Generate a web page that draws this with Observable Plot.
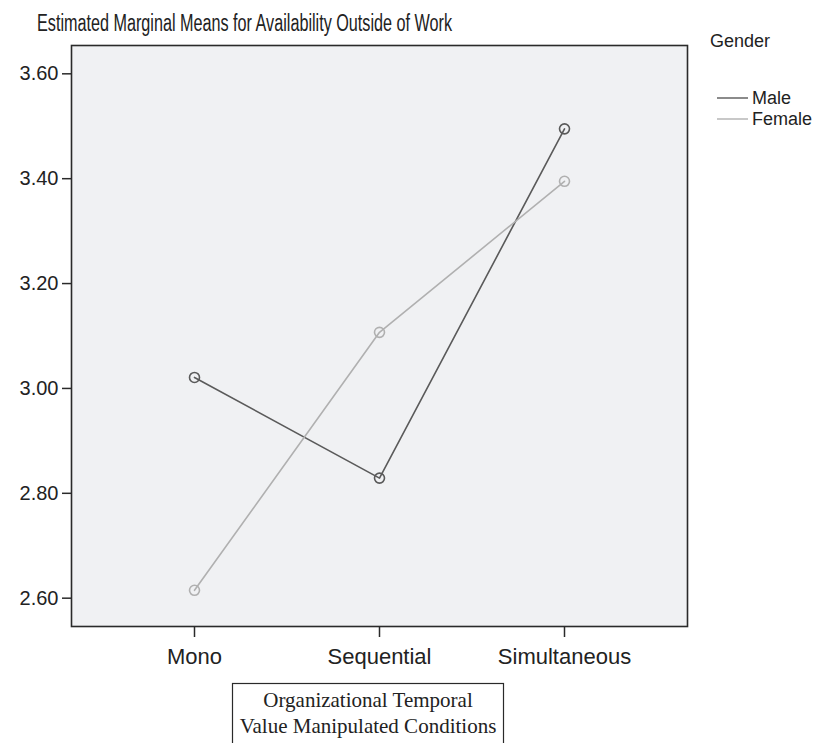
<!DOCTYPE html>
<html><head><meta charset="utf-8">
<script src="https://cdn.jsdelivr.net/npm/d3@7"></script>
<script src="https://cdn.jsdelivr.net/npm/@observablehq/plot@0.6"></script>
<style>
body{margin:0;background:#fff;}
#chart{width:813px;height:743px;}
</style>
</head><body><div id="chart"></div>
<script>
const conditions = ["Mono", "Sequential", "Simultaneous"];
const maleMeans = [3.021, 2.829, 3.495];
const femaleMeans = [2.615, 3.107, 3.395];
const genders = ["Male", "Female"];
const genderColors = ["#5a5a5a", "#b0b0b0"];
const yTicks = [2.6, 2.8, 3.0, 3.2, 3.4, 3.6];
const titleText = "Estimated Marginal Means for Availability Outside of Work";
const xLabelLines = ["Organizational Temporal", "Value Manipulated Conditions"];
const legendTitle = "Gender";

const data = [
  ...conditions.map((c, i) => ({condition: c, gender: "Male", mean: maleMeans[i]})),
  ...conditions.map((c, i) => ({condition: c, gender: "Female", mean: femaleMeans[i]}))
];

const W = 813, H = 743;
const mL = 71, mR = 126, mT = 45, mB = 117;

const svg = Plot.plot({
  width: W, height: H,
  marginLeft: mL, marginRight: mR, marginTop: mT, marginBottom: mB,
  style: {fontFamily: "'Liberation Sans', Arial, Helvetica, sans-serif", fontSize: "22px", color: "#222", background: "#fff"},
  x: {type: "point", domain: conditions, padding: 0.662, label: null},
  y: {domain: [2.546, 3.654], label: null},
  color: {domain: genders, range: genderColors},
  marks: [
    Plot.frame({fill: "#f0f1f3", stroke: null}),
    Plot.line(data, {x: "condition", y: "mean", z: "gender", stroke: "gender", strokeWidth: 1.6}),
    Plot.dot(data, {x: "condition", y: "mean", stroke: "gender", r: 5, strokeWidth: 1.6, fill: "none"}),
    Plot.frame({stroke: "#2a2a2a", strokeWidth: 1.6}),
    Plot.axisY({ticks: yTicks, tickFormat: d => d.toFixed(2), tickSize: 9, tickPadding: 4, fontSize: 20, stroke: "#2a2a2a", strokeWidth: 1.5, fill: "#222"}),
    Plot.axisX({tickSize: 11, tickPadding: 11, stroke: "#2a2a2a", strokeWidth: 1.5, fill: "#222"})
  ]
});
document.getElementById("chart").appendChild(svg);

const s = d3.select(svg);
// Title
s.append("text")
  .attr("x", 37).attr("y", 31)
  .attr("text-anchor", "start")
  .attr("font-size", 23)
  .attr("textLength", 415).attr("lengthAdjust", "spacingAndGlyphs")
  .attr("fill", "#222")
  .text(titleText);

// Legend
const lg = s.append("g").attr("font-size", 18).attr("fill", "#222").attr("text-anchor", "start");
lg.append("text").attr("x", 710).attr("y", 47).text(legendTitle);
genders.forEach((g, i) => {
  const y = 98 + i * 21;
  lg.append("line").attr("x1", 717).attr("x2", 748).attr("y1", y).attr("y2", y)
    .attr("stroke", genderColors[i]).attr("stroke-width", 1.4);
  lg.append("text").attr("x", 752).attr("y", y + 6).text(g);
});

// X axis title box
const bx = s.append("g").attr("font-family", "'Liberation Serif', 'Times New Roman', serif").attr("font-size", 21).attr("fill", "#222");
bx.append("rect").attr("x", 232.5).attr("y", 683.5).attr("width", 271).attr("height", 70)
  .attr("fill", "none").attr("stroke", "#2a2a2a").attr("stroke-width", 1.2);
xLabelLines.forEach((t, i) => {
  bx.append("text").attr("x", 368).attr("y", 707 + i * 26).attr("text-anchor", "middle").text(t);
});
</script>
</body></html>
